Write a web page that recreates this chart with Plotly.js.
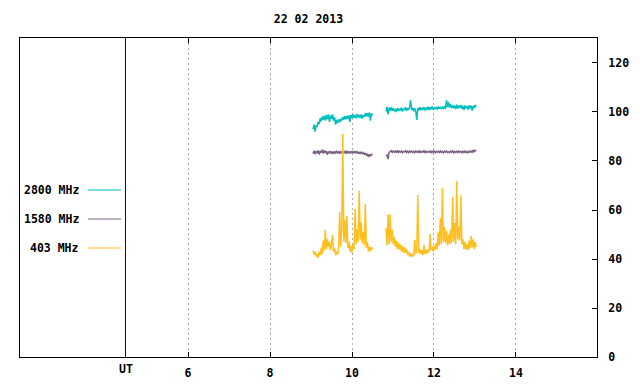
<!DOCTYPE html>
<html><head><meta charset="utf-8">
<script src="https://cdn.plot.ly/plotly-3.0.1.min.js"></script>
<style>html,body{margin:0;padding:0;background:#fff}#c{width:640px;height:384px}</style>
</head><body><div id="c"></div>
<script>
// time in hours UT, first and second observing blocks
const timeA = [9.05,9.075,9.1,9.125,9.15,9.175,9.2,9.225,9.25,9.275,9.3,9.325,9.35,9.375,9.4,9.425,9.45,9.475,9.5,9.525,9.55,9.575,9.6,9.625,9.65,9.675,9.7,9.725,9.75,9.775,9.8,9.825,9.85,9.875,9.9,9.925,9.95,9.975,10.0,10.025,10.05,10.075,10.1,10.125,10.15,10.175,10.2,10.225,10.25,10.275,10.3,10.325,10.35,10.375,10.4,10.425,10.45,10.475,10.5];
const timeB = [10.83,10.855,10.88,10.905,10.93,10.955,10.98,11.005,11.03,11.055,11.08,11.105,11.13,11.155,11.18,11.205,11.23,11.255,11.28,11.305,11.33,11.355,11.38,11.405,11.43,11.455,11.48,11.505,11.53,11.555,11.58,11.605,11.63,11.655,11.68,11.705,11.73,11.755,11.78,11.805,11.83,11.855,11.88,11.905,11.93,11.955,11.98,12.005,12.03,12.055,12.08,12.105,12.13,12.155,12.18,12.205,12.23,12.255,12.28,12.305,12.33,12.355,12.38,12.405,12.43,12.455,12.48,12.505,12.53,12.555,12.58,12.605,12.63,12.655,12.68,12.705,12.73,12.755,12.78,12.805,12.83,12.855,12.88,12.905,12.93,12.955,12.98,13.005,13.03];

const f2800A = [93.0,94.8,92.0,94.5,94.0,96.0,95.0,97.5,96.2,98.2,96.8,98.5,96.5,98.8,97.0,99.0,96.0,98.5,97.2,99.0,96.5,97.8,94.8,96.8,95.5,97.0,95.8,97.2,96.5,98.0,96.8,98.3,97.0,98.5,97.2,98.6,96.0,98.8,97.5,99.0,97.6,98.8,97.4,99.2,97.8,98.9,97.5,99.0,97.3,98.7,98.0,99.5,98.2,99.6,98.0,99.8,96.5,99.4,98.6];
const f2800B = [100.2,102.0,99.0,101.8,100.6,101.9,100.5,101.5,100.3,101.2,100.0,101.6,100.4,101.3,100.6,101.8,100.2,101.4,100.8,102.0,100.5,101.6,100.9,102.0,104.8,100.8,101.8,100.3,101.5,100.1,96.8,101.6,100.6,101.9,100.7,101.7,100.9,102.0,100.6,101.8,101.0,102.1,100.8,101.9,101.1,102.2,100.9,101.7,101.3,102.0,101.0,102.2,101.4,102.1,101.2,102.0,101.5,102.3,101.3,104.9,102.0,104.0,101.8,103.2,101.6,102.8,101.5,102.6,101.2,103.0,101.4,102.6,101.6,102.9,101.3,102.5,100.8,102.7,101.5,102.4,101.0,102.8,101.4,102.6,100.6,102.5,101.5,102.9,102.2];

const f1580A = [83.0,84.2,82.8,84.0,83.2,84.3,82.6,84.1,83.4,84.6,83.0,84.3,83.5,84.0,82.5,83.9,83.2,84.1,83.0,83.8,82.9,84.0,83.1,83.9,83.3,84.0,83.0,83.8,83.2,84.1,83.4,83.9,83.0,84.2,83.3,83.8,83.1,84.0,83.4,83.9,83.2,84.0,83.3,83.8,83.0,83.7,82.9,83.6,83.0,83.4,82.6,83.3,82.2,83.0,81.6,82.8,82.0,82.7,82.4];
const f1580B = [82.0,82.6,80.8,83.5,83.8,84.2,83.5,84.1,83.6,84.0,83.4,84.4,83.5,84.0,83.6,84.1,83.4,83.9,83.7,84.2,83.5,84.0,83.4,84.1,83.6,84.0,83.5,83.9,83.4,84.1,83.6,84.0,83.3,84.1,83.5,83.9,83.6,84.2,83.4,84.0,83.5,83.9,83.6,84.1,83.4,84.0,83.5,84.2,83.4,83.9,83.6,84.0,83.3,84.1,83.5,83.9,83.4,84.0,83.6,84.1,83.5,83.8,83.4,84.0,83.6,84.1,83.3,83.9,83.5,84.0,83.4,84.1,83.6,83.9,83.4,84.0,83.5,84.2,83.3,83.9,83.4,84.0,83.6,84.1,83.5,84.3,83.8,84.4,84.2];

const f403A = [43.5,41.8,43.0,41.0,42.2,40.5,43.0,41.5,44.5,42.0,47.5,43.5,51.8,44.0,48.0,45.0,47.0,43.5,46.0,49.8,43.0,44.5,41.5,43.0,41.8,44.5,59.2,45.0,52.0,91.0,47.0,56.0,46.5,57.5,44.5,47.0,43.0,45.5,42.5,46.0,44.0,60.4,46.0,52.0,47.0,67.8,48.0,55.0,46.5,51.0,45.5,62.4,44.5,47.0,43.0,45.0,43.2,44.8,43.8];
const f403B = [52.6,45.5,58.4,46.0,58.0,47.0,51.8,46.0,49.0,45.0,47.5,44.0,46.8,43.8,46.0,43.0,45.2,42.6,44.8,42.4,44.0,41.8,43.0,41.0,42.4,40.8,42.0,41.2,47.8,42.0,44.0,66.1,42.5,44.0,42.0,43.6,41.6,45.7,42.0,43.8,42.2,44.0,42.8,50.2,43.5,45.0,43.0,45.5,43.6,46.5,44.0,51.0,45.5,56.7,46.0,69.0,47.0,53.0,46.5,51.5,45.5,50.0,46.0,52.0,46.5,65.3,47.0,54.7,46.0,71.8,48.0,53.0,47.5,66.0,46.0,48.0,44.0,47.0,43.8,46.0,43.6,47.5,44.5,49.4,44.8,48.0,44.0,47.0,45.0];

const seriesNames = ['2800 MHz','1580 MHz','403 MHz'];
const seriesColors = ['#00bfbf','#7a6083','#ffbf20'];
const xTickVals = [6,8,10,12,14];
const xTickText = ['6','8','10','12','14'];
const yTickVals = [0,20,40,60,80,100,120];
const utLine = 4.4756;
const titleText = '22 02 2013';

const FONT = {family:'DejaVu Sans Mono, monospace', size:11.5, color:'#000', weight:'bold'};
const t = timeA.concat([null], timeB);
const join = (a,b) => a.concat([null], b);
const ys = [join(f2800A,f2800B), join(f1580A,f1580B), join(f403A,f403B)];

const traces = ys.map((y,i)=>({x:t, y:y, type:'scatter', mode:'lines', name:seriesNames[i],
  line:{color:seriesColors[i], width:1.5}, connectgaps:false, showlegend:false, hoverinfo:'skip'}));

const shapes = [{type:'line', xref:'x', yref:'paper', x0:utLine, x1:utLine, y0:0, y1:1, line:{color:'#3a0000', width:1}}];
const annotations = [{xref:'x', yref:'paper', x:utLine, y:0, yshift:-12, text:'UT', showarrow:false, font:FONT, xanchor:'center', yanchor:'middle'}];
const legY = [190, 219, 248];
seriesNames.forEach((n,i)=>{
  const yp = (357-legY[i])/319;
  annotations.push({xref:'paper', yref:'paper', x:(81-20)/577, y:yp, text:n, showarrow:false, font:FONT, xanchor:'right', yanchor:'middle'});
  shapes.push({type:'line', xref:'paper', yref:'paper', x0:(88-20)/577, x1:(121-20)/577, y0:yp, y1:yp, line:{color:seriesColors[i], width:1}});
});

const layout = {
  width:640, height:384,
  margin:{l:20, r:43, t:38, b:27, pad:0},
  paper_bgcolor:'#fff', plot_bgcolor:'#fff',
  title:{text:titleText, font:FONT, x:0.482, xanchor:'center', y:1-19/384, yanchor:'middle'},
  showlegend:false,
  xaxis:{range:[1.902,15.976], tickvals:xTickVals, ticktext:xTickText, ticks:'inside', ticklen:5, tickcolor:'#000', ticklabelstandoff:5,
    showline:true, linecolor:'#000', linewidth:1, mirror:'ticks', showgrid:true, gridcolor:'#a8a8a8', griddash:'2px,3px', gridwidth:1,
    zeroline:false, tickfont:FONT, fixedrange:true},
  yaxis:{range:[0,130.2], side:'right', tickvals:yTickVals, ticks:'inside', ticklen:5, tickcolor:'#000', ticklabelstandoff:8,
    showline:true, linecolor:'#000', linewidth:1, mirror:true, showgrid:false, zeroline:false, tickfont:FONT, fixedrange:true},
  shapes:shapes, annotations:annotations
};
Plotly.newPlot('c', traces, layout, {staticPlot:true, displayModeBar:false});
</script></body></html>
